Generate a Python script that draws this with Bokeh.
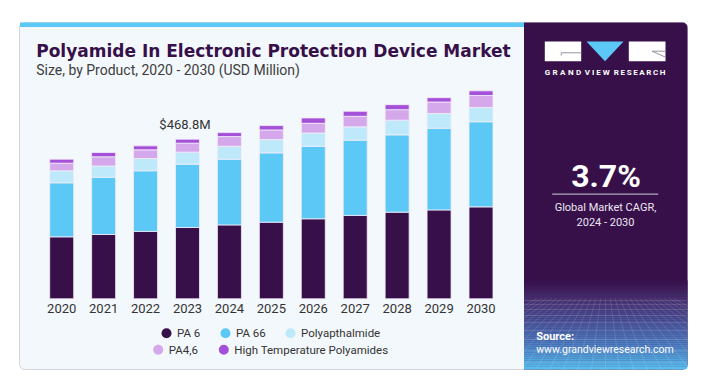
from bokeh.plotting import figure
from bokeh.models import Range1d, ColumnDataSource
from bokeh.core.properties import value
from bokeh.embed import file_html
from bokeh.resources import INLINE

# ---------------- data ----------------
years = [2020, 2021, 2022, 2023, 2024, 2025, 2026, 2027, 2028, 2029, 2030]
series_names = ["PA 6", "PA 66", "Polyapthalmide", "PA4,6", "High Temperature Polyamides"]
pa6 = [182.0, 189.0, 198.0, 209.5, 217.0, 225.0, 235.0, 245.0, 254.5, 261.0, 270.0]
pa66 = [158.6, 168.0, 178.0, 186.0, 193.0, 203.6, 213.0, 221.0, 227.0, 240.0, 250.0]
polyapthalmide = [35.2, 33.0, 36.0, 35.2, 38.0, 39.0, 39.0, 39.0, 43.0, 43.0, 42.0]
pa46 = [22.5, 27.0, 25.5, 26.4, 28.4, 28.4, 28.4, 31.0, 31.0, 34.0, 35.0]
htp = [11.7, 12.7, 11.7, 11.7, 11.7, 12.7, 15.7, 14.7, 14.7, 12.7, 13.7]
annotated_year = 2023
cagr_text = "3.7%"
cagr_label = ["Global Market CAGR,", "2024 - 2030"]
title = "Polyamide In Electronic Protection Device Market"
subtitle = "Size, by Product, 2020 - 2030 (USD Million)"

colors = ["#37104a", "#5bc8f5", "#bde9fa", "#d4a8ea", "#a450d8"]
FONT = "Roboto"

# ---------------- canvas ----------------
W, H = 719, 371
X0, Y0 = 0, 0
p = figure(width=W, height=H, x_range=Range1d(X0, X0 + W), y_range=Range1d(Y0 + H, Y0),
           output_backend="svg", toolbar_location=None, min_border=0,
           x_axis_location=None, y_axis_location=None)
p.grid.visible = False
p.outline_line_color = None
p.background_fill_color = "white"
p.border_fill_color = "white"

# bar scales: years -> px, values -> px
bar_center0, bar_step = 61.2, 41.93
bar_w_px = 24.0
base_px, px_per_m = 298.3, 0.3405
xs = years[0] - (bar_center0 - X0) / bar_step
p.extra_x_ranges = {"yr": Range1d(xs, xs + W / bar_step)}
p.extra_y_ranges = {"val": Range1d(-(Y0 + H - base_px) / px_per_m, (base_px - Y0) / px_per_m)}

# card
p.quad(left=[19], right=[687], top=[22], bottom=[369], fill_color="#f3f8fc",
       line_color="#d3d6da", line_width=1, border_radius=5)
p.quad(left=[19.5], right=[524], top=[22], bottom=[26.5], fill_color="#5bc8f5", line_color=None)

# right panel
p.quad(left=[523.5], right=[687], top=[22], bottom=[369], fill_color="#37104a",
       line_color=None, border_radius=(0, 5, 5, 0))

# gradient at the bottom of the panel
stops = [(280, (0x37, 0x10, 0x4a)), (300, (0x47, 0x32, 0x72)), (322, (0x4a, 0x54, 0x9a)),
         (345, (0x4d, 0x80, 0xc4)), (369, (0x58, 0xc0, 0xf0))]
def col_at(y):
    for (ya, ca), (yb, cb) in zip(stops[:-1], stops[1:]):
        if ya <= y <= yb:
            t = (y - ya) / (yb - ya)
            c = [round(a + (b - a) * t) for a, b in zip(ca, cb)]
            return "#%02x%02x%02x" % tuple(c)
    return "#%02x%02x%02x" % stops[-1][1]
bands_top, bands_bot, bands_col = [], [], []
yy = 280.0
while yy < 366:
    bands_top.append(yy); bands_bot.append(yy + 2.2); bands_col.append(col_at(yy + 1)); yy += 2
p.quad(left=523.5, right=687, top=bands_top, bottom=bands_bot, fill_color=bands_col, line_color=None)
p.quad(left=[523.5], right=[687], top=[366], bottom=[369], fill_color=col_at(368), line_color=None,
       border_radius=(0, 0, 5, 0))
# perspective grid
hy = [300, 304, 309, 315, 322, 330, 339, 350, 362]
p.segment(x0=524, x1=686, y0=hy, y1=hy, line_color="white", line_alpha=0.13, line_width=1)
vx0, vx1 = [], []
for k in range(-14, 15):
    xb = 605 + k * 14
    vx1.append(xb)
    vx0.append(605 + (xb - 605) * 0.35)
p.segment(x0=vx0, y0=[298] * len(vx0), x1=vx1, y1=[369] * len(vx1), line_color="white",
          line_alpha=0.12, line_width=1)
# cover grid overflow outside panel
p.quad(left=[687.5], right=[719], top=[280], bottom=[371], fill_color="white", line_color=None)
p.quad(left=[400], right=[523.4], top=[297], bottom=[368.5], fill_color="#f3f8fc", line_color=None)

# logo
p.quad(left=[544.3, 628.3], right=[580.7, 665], top=[41, 41], bottom=[60.7, 60.7],
       fill_color="white", line_color=None)
p.patch(x=[586, 623, 604.5], y=[41, 41, 60.7], fill_color="#5bc8f5", line_color=None)
p.line(x=[580.7, 560.7, 560.7], y=[52.3, 52.3, 55], line_color="#9a93a6", line_width=1)
p.line(x=[665, 651.5, 665], y=[50.7, 50.7, 56.7], line_color="#9a93a6", line_width=1)
# letter-spaced brand name
glyph_w = {"G": 5.4, "R": 5.1, "A": 5.4, "N": 5.6, "D": 5.3, "V": 5.2, "I": 2.3,
           "E": 4.6, "W": 7.1, "S": 5.0, "C": 5.3, "H": 5.7}
lx, lt = [], []
for word, xa, xb in [("GRAND", 544.3, 580.7), ("VIEW", 584.3, 609.3), ("RESEARCH", 613.3, 665.0)]:
    ws = [glyph_w[c] for c in word]
    track = (xb - xa - sum(ws)) / (len(word) - 1)
    cx = xa
    for c, w in zip(word, ws):
        lx.append(cx + w / 2); lt.append(c); cx += w + track
p.text(x=lx, y=[71.8] * len(lx), text=lt, text_font=value(FONT), text_font_size="8px",
       text_font_style="bold", text_color="white", text_baseline="middle", text_align="center")

# CAGR block
p.text(x=[605.5], y=[175.8], text=[cagr_text], text_font=value(FONT), text_font_size="32px",
       text_font_style="bold", text_color="white", text_align="center", text_baseline="middle")
p.segment(x0=[551.7], x1=[657.7], y0=[193.7], y1=[193.7], line_color="#b3a6c2", line_width=1.2)
p.text(x=[605, 605], y=[206.9, 221.5], text=cagr_label, text_font=value(FONT), text_font_size="11px",
       text_color="#ece6f2", text_align="center", text_baseline="middle")

# source
p.text(x=[535.7], y=[336], text=["Source:"], text_font=value(FONT), text_font_size="11px",
       text_font_style="bold", text_color="white", text_baseline="middle")
p.text(x=[535.7], y=[349.3], text=["www.grandviewresearch.com"], text_font=value(FONT),
       text_font_size="10.5px", text_color="white", text_baseline="middle")

# title
p.text(x=[35.7], y=[50], text=[title], text_font=value("DejaVu Sans"), text_font_size="17px",
       text_font_style="bold", text_color="#37104a", text_baseline="middle")
p.text(x=[35.7], y=[69.3], text=[subtitle], text_font=value(FONT), text_font_size="14px",
       text_color="#3d3d3d", text_baseline="middle")

# ---------------- bars ----------------
keys = ["pa6", "pa66", "polyapthalmide", "pa46", "htp"]
src = ColumnDataSource(dict(year=years, pa6=pa6, pa66=pa66, polyapthalmide=polyapthalmide,
                            pa46=pa46, htp=htp))
p.vbar_stack(keys, x="year", width=bar_w_px / bar_step, source=src, fill_color=colors,
             line_color="#f4eefa", line_alpha=0.8, line_width=1,
             x_range_name="yr", y_range_name="val")

# year labels
p.text(x=years, y=[0] * len(years), text=[str(y) for y in years], x_range_name="yr",
       y_range_name="val", y_offset=9.5, text_font=value(FONT), text_font_size="13px",
       text_color="#333333", text_align="center", text_baseline="middle")

# annotation
i = years.index(annotated_year)
total = pa6[i] + pa66[i] + polyapthalmide[i] + pa46[i] + htp[i]
p.text(x=[annotated_year], y=[total], text=["$%.1fM" % total], x_range_name="yr",
       y_range_name="val", y_offset=-14.4, x_offset=-2.5, text_font=value(FONT),
       text_font_size="13px", text_color="#333333", text_align="center", text_baseline="middle")

# ---------------- legend ----------------
leg_pos = [(166, 332.7), (225, 332.7), (290, 332.7), (157.7, 349.3), (223.3, 349.3)]
p.scatter(x=[a for a, b in leg_pos], y=[b for a, b in leg_pos], size=10, marker="circle",
          fill_color=colors, line_color=None)
p.text(x=[a + 10.5 for a, b in leg_pos], y=[b for a, b in leg_pos], text=series_names,
       text_font=value(FONT), text_font_size="11.5px", text_color="#333333",
       text_baseline="middle")

open("out.html", "w").write(file_html(p, INLINE))
